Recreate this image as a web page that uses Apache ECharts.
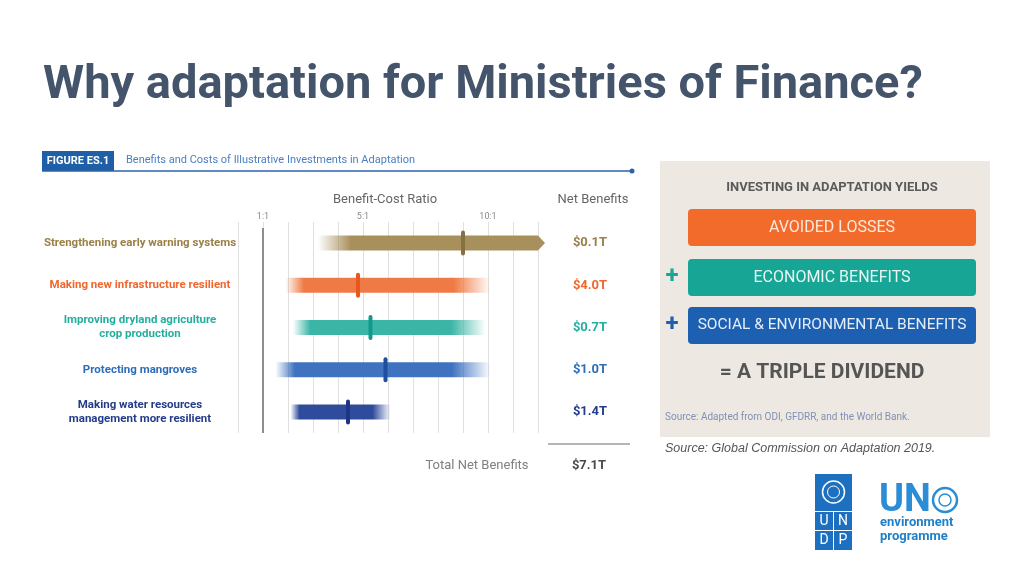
<!DOCTYPE html>
<html><head><meta charset="utf-8">
<script src="https://cdn.jsdelivr.net/npm/echarts@6/dist/echarts.min.js"></script>
<style>html,body{margin:0;padding:0;background:#fff}#c{width:1024px;height:576px}</style>
</head><body><div id="c"></div>
<script>
// ---- data ----
const categories = ['Strengthening early warning systems','Making new infrastructure resilient','Improving dryland agriculture\ncrop production','Protecting mangroves','Making water resources\nmanagement more resilient'];
const ratioLow  = [3.2, 1.9, 2.2, 1.5, 2.1];
const ratioHigh = [12.0, 10.1, 9.9, 10.1, 6.1];
const ratioMid  = [9.0, 4.8, 5.3, 5.9, 4.4];
const openEnded = [true, false, false, false, false];
const netBenefits = ['$0.1T','$4.0T','$0.7T','$1.0T','$1.4T'];
const totalNetBenefits = '$7.1T';
const ratioTickLabels = {1:'1:1', 5:'5:1', 10:'10:1'};
const parityRatio = 1;

// ---- styles ----
const barColors  = ['#a8905c','#f07a45','#3bb5a6','#3f73c0','#2f4b9c'];
const markColors = ['#86703f','#e8581c','#13998a','#1d4f9e','#1c3585'];
const labelColors= ['#9a8147','#f0672f','#25ae9f','#2f6dba','#243d8a'];
function fadeColor(hex){ return hex + '00'; }

const leftRich = {}, rightRich = {};
labelColors.forEach((c,i)=>{
  leftRich['c'+i]  = {width:196, align:'center', color:c, fontSize:11.5, fontWeight:'bold', fontFamily:'Roboto', lineHeight:14};
  rightRich['c'+i] = {width:50, align:'center', color:c, fontSize:13, fontWeight:'bold', fontFamily:'Roboto'};
});
const wrapRich = (text, i) => text.split('\n').map(l=>'{c'+i+'|'+l+'}').join('\n');

const chart = echarts.init(document.getElementById('c'), null, {renderer:'canvas'});
const T = (x,y,text,font,fill,align,extra) => Object.assign({type:'text', x, y, silent:true, style:{text, font, fill, align:align||'left', textAlign:align||'left', verticalAlign:'middle', textVerticalAlign:'middle'}}, extra||{});

const option = {
  backgroundColor:'#ffffff',
  animation:false,
  grid:{left:238, right:486, top:222, height:211, containLabel:false, outerBoundsMode:'none'},
  xAxis:{type:'value', min:0, max:12, interval:1, position:'top',
    axisLine:{show:false}, axisTick:{show:false},
    splitLine:{show:true, lineStyle:{color:'#e0e0e0', width:1}},
    axisLabel:{show:true, margin:1, fontSize:9, color:'#8a8a8a', fontFamily:'Roboto',
      formatter:v=>ratioTickLabels[v]||''}},
  yAxis:[
    {type:'category', inverse:true, data:categories,
      axisLine:{show:false}, axisTick:{show:false}, splitLine:{show:false},
      axisLabel:{margin:0, formatter:(v,i)=>wrapRich(v,i), rich:leftRich}},
    {type:'category', inverse:true, position:'right', data:netBenefits,
      axisLine:{show:false}, axisTick:{show:false}, splitLine:{show:false},
      axisLabel:{margin:27, formatter:(v,i)=>wrapRich(v,i), rich:rightRich}}
  ],
  series:[{
    type:'custom', xAxisIndex:0, yAxisIndex:0,
    encode:{x:[0,1,2], y:3},
    data: categories.map((c,i)=>[ratioLow[i], ratioHigh[i], ratioMid[i], i]),
    renderItem:(params, api)=>{
      const i = api.value(3);
      const lo = api.coord([api.value(0), i]);
      const hi = api.coord([api.value(1), i]);
      const mid = api.coord([api.value(2), i]);
      const h = 15, c = barColors[i], f = fadeColor(c);
      const open = openEnded[i];
      const stops = open
        ? [{offset:0,color:f},{offset:0.15,color:c},{offset:1,color:c}]
        : [{offset:0,color:f},{offset:0.09,color:c},{offset:0.82,color:c},{offset:1,color:f}];
      const ch = [];
      if(params.dataIndex === 0){
        const cs = params.coordSys;
        const px = api.coord([parityRatio, i])[0];
        ch.push({type:'line', shape:{x1:px, y1:cs.y+6, x2:px, y2:cs.y+cs.height}, style:{stroke:'#8e8e8e', lineWidth:2}});
      }
      ch.push({type:'rect', shape:{x:lo[0], y:lo[1]-h/2, width:hi[0]-lo[0], height:h},
        style:{fill:new echarts.graphic.LinearGradient(0,0,1,0,stops)}});
      if(open) ch.push({type:'polygon', shape:{points:[[hi[0],lo[1]-h/2],[hi[0]+7,lo[1]],[hi[0],lo[1]+h/2]]}, style:{fill:c}});
      ch.push({type:'rect', shape:{x:mid[0]-2, y:mid[1]-12.5, width:4, height:25, r:2}, style:{fill:markColors[i]}});
      return {type:'group', children:ch};
    }
  }],
  graphic:[
    T(43, 86, 'Why adaptation for Ministries of Finance?', 'bold 47px Roboto', '#44546a'),
    // figure header
    {type:'rect', shape:{x:42, y:151, width:72, height:20}, style:{fill:'#1f5fa8'}, silent:true},
    T(78, 161.5, 'FIGURE ES.1', 'bold 11px Roboto', '#ffffff', 'center'),
    T(126, 160, 'Benefits and Costs of Illustrative Investments in Adaptation', '11px Roboto', '#4a7fc1'),
    {type:'line', shape:{x1:42, y1:171, x2:632, y2:171}, style:{stroke:'#2a62ab', lineWidth:1.5}, silent:true},
    {type:'circle', shape:{cx:632, cy:171, r:2.5}, style:{fill:'#2a62ab'}, silent:true},
    T(385, 200, 'Benefit-Cost Ratio', '13px Roboto', '#666666', 'center'),
    T(593, 200, 'Net Benefits', '13px Roboto', '#666666', 'center'),
    {type:'line', shape:{x1:548, y1:444, x2:630, y2:444}, style:{stroke:'#b5b5b5', lineWidth:2}, silent:true},
    T(477, 466, 'Total Net Benefits', '13px Roboto', '#808080', 'center'),
    T(589, 466, totalNetBenefits, 'bold 13px Roboto', '#4a4a4a', 'center'),
    // right panel
    {type:'rect', shape:{x:660, y:161, width:330, height:276}, style:{fill:'#ede9e2'}, silent:true},
    T(832, 188, 'INVESTING IN ADAPTATION YIELDS', 'bold 13px Roboto', '#5a5a5a', 'center'),
    {type:'rect', shape:{x:688, y:209, width:288, height:37, r:4}, style:{fill:'#f26b2b'}, silent:true},
    T(832, 228, 'AVOIDED LOSSES', '16px Roboto', '#fde8dc', 'center'),
    {type:'rect', shape:{x:688, y:259, width:288, height:37, r:4}, style:{fill:'#17a596'}, silent:true},
    T(832, 277.5, 'ECONOMIC BENEFITS', '16px Roboto', '#e6f6f3', 'center'),
    T(672, 277, '+', 'bold 24px Roboto', '#17a596', 'center'),
    {type:'rect', shape:{x:688, y:307, width:288, height:37, r:4}, style:{fill:'#1d5fb1'}, silent:true},
    T(832, 325.5, 'SOCIAL & ENVIRONMENTAL BENEFITS', '15.5px Roboto', '#e6eef9', 'center'),
    T(672, 325, '+', 'bold 24px Roboto', '#1d5fb1', 'center'),
    T(822, 373, '= A TRIPLE DIVIDEND', 'bold 21px Roboto', '#555555', 'center'),
    T(665, 417, 'Source: Adapted from ODI, GFDRR, and the World Bank.', '10px Roboto', '#8190b6'),
    T(665, 449, 'Source: Global Commission on Adaptation 2019.', 'italic 12.5px "Liberation Sans"', '#555555'),
    // UNDP logo
    {type:'rect', shape:{x:815, y:474, width:37, height:76}, style:{fill:'#1d6fc0'}, silent:true},
    {type:'circle', shape:{cx:833.5, cy:492, r:11}, style:{fill:'none', stroke:'#ffffff', lineWidth:1.5}, silent:true},
    {type:'circle', shape:{cx:833.5, cy:492, r:6}, style:{fill:'none', stroke:'#ffffff', lineWidth:1}, silent:true},
    {type:'line', shape:{x1:815, y1:511.5, x2:852, y2:511.5}, style:{stroke:'#ffffff', lineWidth:1}, silent:true},
    {type:'line', shape:{x1:815, y1:530.5, x2:852, y2:530.5}, style:{stroke:'#ffffff', lineWidth:1}, silent:true},
    {type:'line', shape:{x1:833.5, y1:511.5, x2:833.5, y2:550}, style:{stroke:'#ffffff', lineWidth:1}, silent:true},
    T(824, 521.5, 'U', '14px Roboto', '#ffffff', 'center'),
    T(843, 521.5, 'N', '14px Roboto', '#ffffff', 'center'),
    T(824, 540.5, 'D', '14px Roboto', '#ffffff', 'center'),
    T(843, 540.5, 'P', '14px Roboto', '#ffffff', 'center'),
    // UN environment logo
    T(879, 501, 'UN', 'bold 38px Roboto', '#2b8dd6'),
    {type:'circle', shape:{cx:945, cy:500, r:12}, style:{fill:'none', stroke:'#2b8dd6', lineWidth:2.5}, silent:true},
    {type:'circle', shape:{cx:945, cy:500, r:6}, style:{fill:'none', stroke:'#2b8dd6', lineWidth:1.5}, silent:true},
    T(880, 523, 'environment', 'bold 13px Roboto', '#1f80c9'),
    T(880, 537, 'programme', 'bold 13px Roboto', '#1f80c9')
  ]
};
chart.setOption(option);
</script></body></html>
